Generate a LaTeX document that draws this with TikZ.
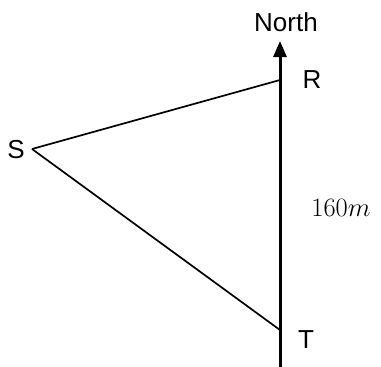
\RequirePackage{fix-cm}
\documentclass[tikz,border=0pt]{standalone}
\usepackage{fontspec}
\newfontfamily\labelfont{Liberation Sans}
\usetikzlibrary{arrows.meta}
\tikzset{
  ptlabel/.style={font=\labelfont\fontsize{26}{26}\selectfont, inner sep=0pt},
  side/.style={line width=1.7pt},
  northline/.style={line width=3pt, -{Triangle[length=16pt,width=13pt]}},
}
\begin{document}
\begin{tikzpicture}[x=1pt,y=-1pt]
  \useasboundingbox (0,0) rectangle (381,367);

  % --- points ---
  \coordinate (S) at (32,149);
  \coordinate (R) at (280,80);
  \coordinate (T) at (280,330);
  \coordinate (base) at (280,367);
  \coordinate (tip) at (280,41);

  % --- labels ---
  \node[ptlabel] (northlbl) at (286,22) {North};
  \node[ptlabel] (rlbl) at (312,80) {R};
  \node[ptlabel] (slbl) at (16,150) {S};
  \node[ptlabel] (tlbl) at (306,340) {T};
  \node[font=\fontsize{26.5}{26.5}\selectfont, inner sep=0pt] (dist) at (341,208) {$160m$};

  % --- lines ---
  \draw[northline] (base) -- (tip);
  \draw[side] (S) -- (R);
  \draw[side] (S) -- (T);
\end{tikzpicture}
\end{document}
